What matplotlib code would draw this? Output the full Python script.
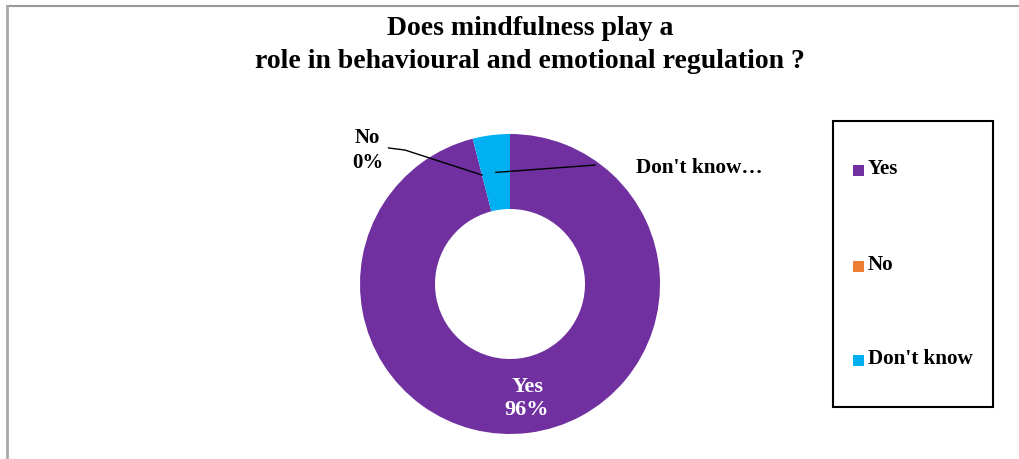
import numpy as np
import matplotlib.pyplot as plt
from matplotlib.lines import Line2D
from matplotlib.patches import Rectangle

labels = ["Yes", "No", "Don't know"]
values = [96, 0, 4]
colors = ["#7030A0", "#ED7D31", "#00B0F0"]

plt.rcParams['font.family'] = ['Liberation Serif', 'DejaVu Serif']
plt.rcParams['font.weight'] = 'bold'

W, H = 1019, 459
fig = plt.figure(figsize=(W / 100, H / 100), dpi=100)

# grey outer frame (only top and left visible)
fig.add_artist(Line2D([7 / W, 1], [1 - 6 / H, 1 - 6 / H], color="#999999", lw=1.5))
fig.add_artist(Line2D([7 / W, 7 / W], [0, 1 - 6 / H], color="#aaaaaa", lw=2))

fig.text(530 / W, 1 - 45 / H, "Does mindfulness play a\nrole in behavioural and emotional regulation ?",
         ha="center", va="center", fontsize=20, fontweight="bold", linespacing=1.45)

# donut axes: centre (510,284), radius 150 px
cx, cy, r = 510, 284, 150
ax = fig.add_axes([(cx - r) / W, (H - cy - r) / H, 2 * r / W, 2 * r / H])
wedges, _ = ax.pie(values, colors=colors, startangle=90, counterclock=False,
                   radius=1, wedgeprops=dict(width=0.5, edgecolor="none"))
ax.set_xlim(-1, 1)
ax.set_ylim(-1, 1)
ax.set_aspect("equal")
ax.axis("off")

total = sum(values)

# Yes label inside ring
w = wedges[0]
mid = np.deg2rad((w.theta1 + w.theta2) / 2)
ax.text(0.75 * np.cos(mid) + 0.02, 0.75 * np.sin(mid) - 0.02,
        f"{labels[0]}\n{values[0] / total:.0%}", ha="center", va="center",
        color="white", fontsize=16, fontweight="bold", linespacing=1.2)

# No label with leader line
w = wedges[1]
mid = np.deg2rad((w.theta1 + w.theta2) / 2)
p = (0.75 * np.cos(mid), 0.75 * np.sin(mid))
ax.plot([p[0], -0.70, -0.81], [p[1], 0.893, 0.907], color="black", lw=1, clip_on=False)
ax.text(-0.95, 0.89, f"{labels[1]}\n{values[1] / total:.0%}", ha="center", va="center",
        fontsize=15, fontweight="bold", linespacing=1.3)

# Don't know label with leader line
w = wedges[2]
mid = np.deg2rad((w.theta1 + w.theta2) / 2)
p = (0.75 * np.cos(mid), 0.75 * np.sin(mid))
ax.plot([p[0], 0.567], [p[1], 0.793], color="black", lw=1, clip_on=False)
ax.text(0.84, 0.775, "Don't know…", ha="left", va="center",
        fontsize=15.3, fontweight="bold")

# legend box
fig.add_artist(Rectangle((833 / W, 1 - 407 / H), 160 / W, 286 / H, transform=fig.transFigure,
                         fill=False, edgecolor="black", lw=1.5))
leg_y = [170, 266, 360]
for lab, col, y in zip(labels, colors, leg_y):
    fig.add_artist(Rectangle((853 / W, 1 - (y + 5.5) / H), 11 / W, 11 / H,
                             transform=fig.transFigure, facecolor=col, edgecolor="none"))
    fig.text(868 / W, 1 - (y - 1) / H, lab, ha="left", va="center", fontsize=15.2, fontweight="bold")

fig.savefig("out.png", dpi=100)
